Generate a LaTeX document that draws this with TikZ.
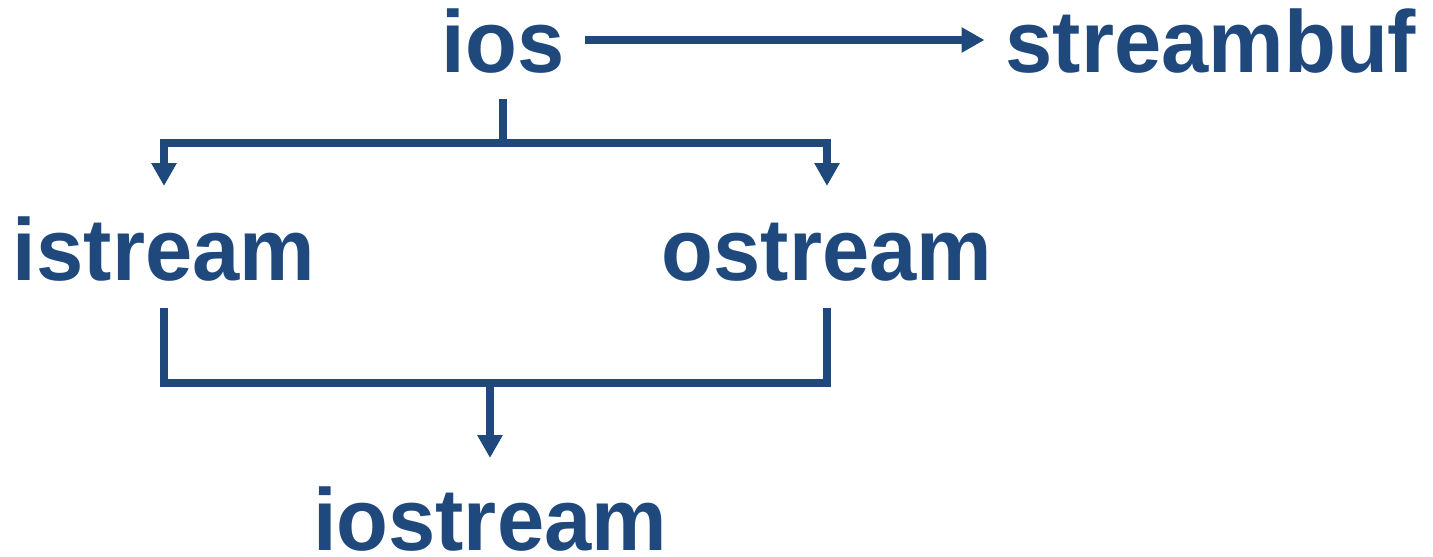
\documentclass[tikz,border=0pt]{standalone}
\usepackage{fontspec}
\setmainfont{Liberation Sans}[FakeStretch=0.965]
\usetikzlibrary{arrows.meta,calc}
\definecolor{navy}{RGB}{31,73,125}
\begin{document}
\begin{tikzpicture}[x=1pt,y=1pt,
    cls/.style={inner sep=0pt, anchor=base, text=navy,
      font=\fontsize{88}{100}\selectfont\bfseries},
    link/.style={draw=navy, line width=7.5pt, line join=miter},
    arr/.style={link, -{Triangle[length=23pt,width=24pt]}}]
  \useasboundingbox (0,0) rectangle (1433,-557);

  % class names
  \node[cls] (ios)       at (503,-72)  {ios};
  \node[cls] (streambuf) at (1211,-72) {streambuf};
  \node[cls] (istream)   at (164,-280) {istream};
  \node[cls] (ostream)   at (827,-280) {ostream};
  \node[cls] (iostream)  at (490,-550) {iostream};

  % ios uses a streambuf
  \draw[arr] ([shift={(20pt,32pt)}]ios.base east)
    -- ([shift={(-21pt,32pt)}]streambuf.base west);

  % ios splits into istream and ostream
  \coordinate (fork) at ([yshift=-71pt]ios.base);
  \draw[link] ([yshift=-27pt]ios.base) -- (fork);
  \draw[arr] (fork) -| ([yshift=94pt]istream.base);
  \draw[arr] (fork) -| ([yshift=94pt]ostream.base);

  % istream and ostream merge into iostream
  \coordinate (merge) at ([yshift=-103pt]istream.base -| iostream.base);
  \draw[link] ([yshift=-28pt]istream.base) |- (merge) -| ([yshift=-28pt]ostream.base);
  \draw[arr] (merge) -- ([yshift=92pt]iostream.base);
\end{tikzpicture}
\end{document}
